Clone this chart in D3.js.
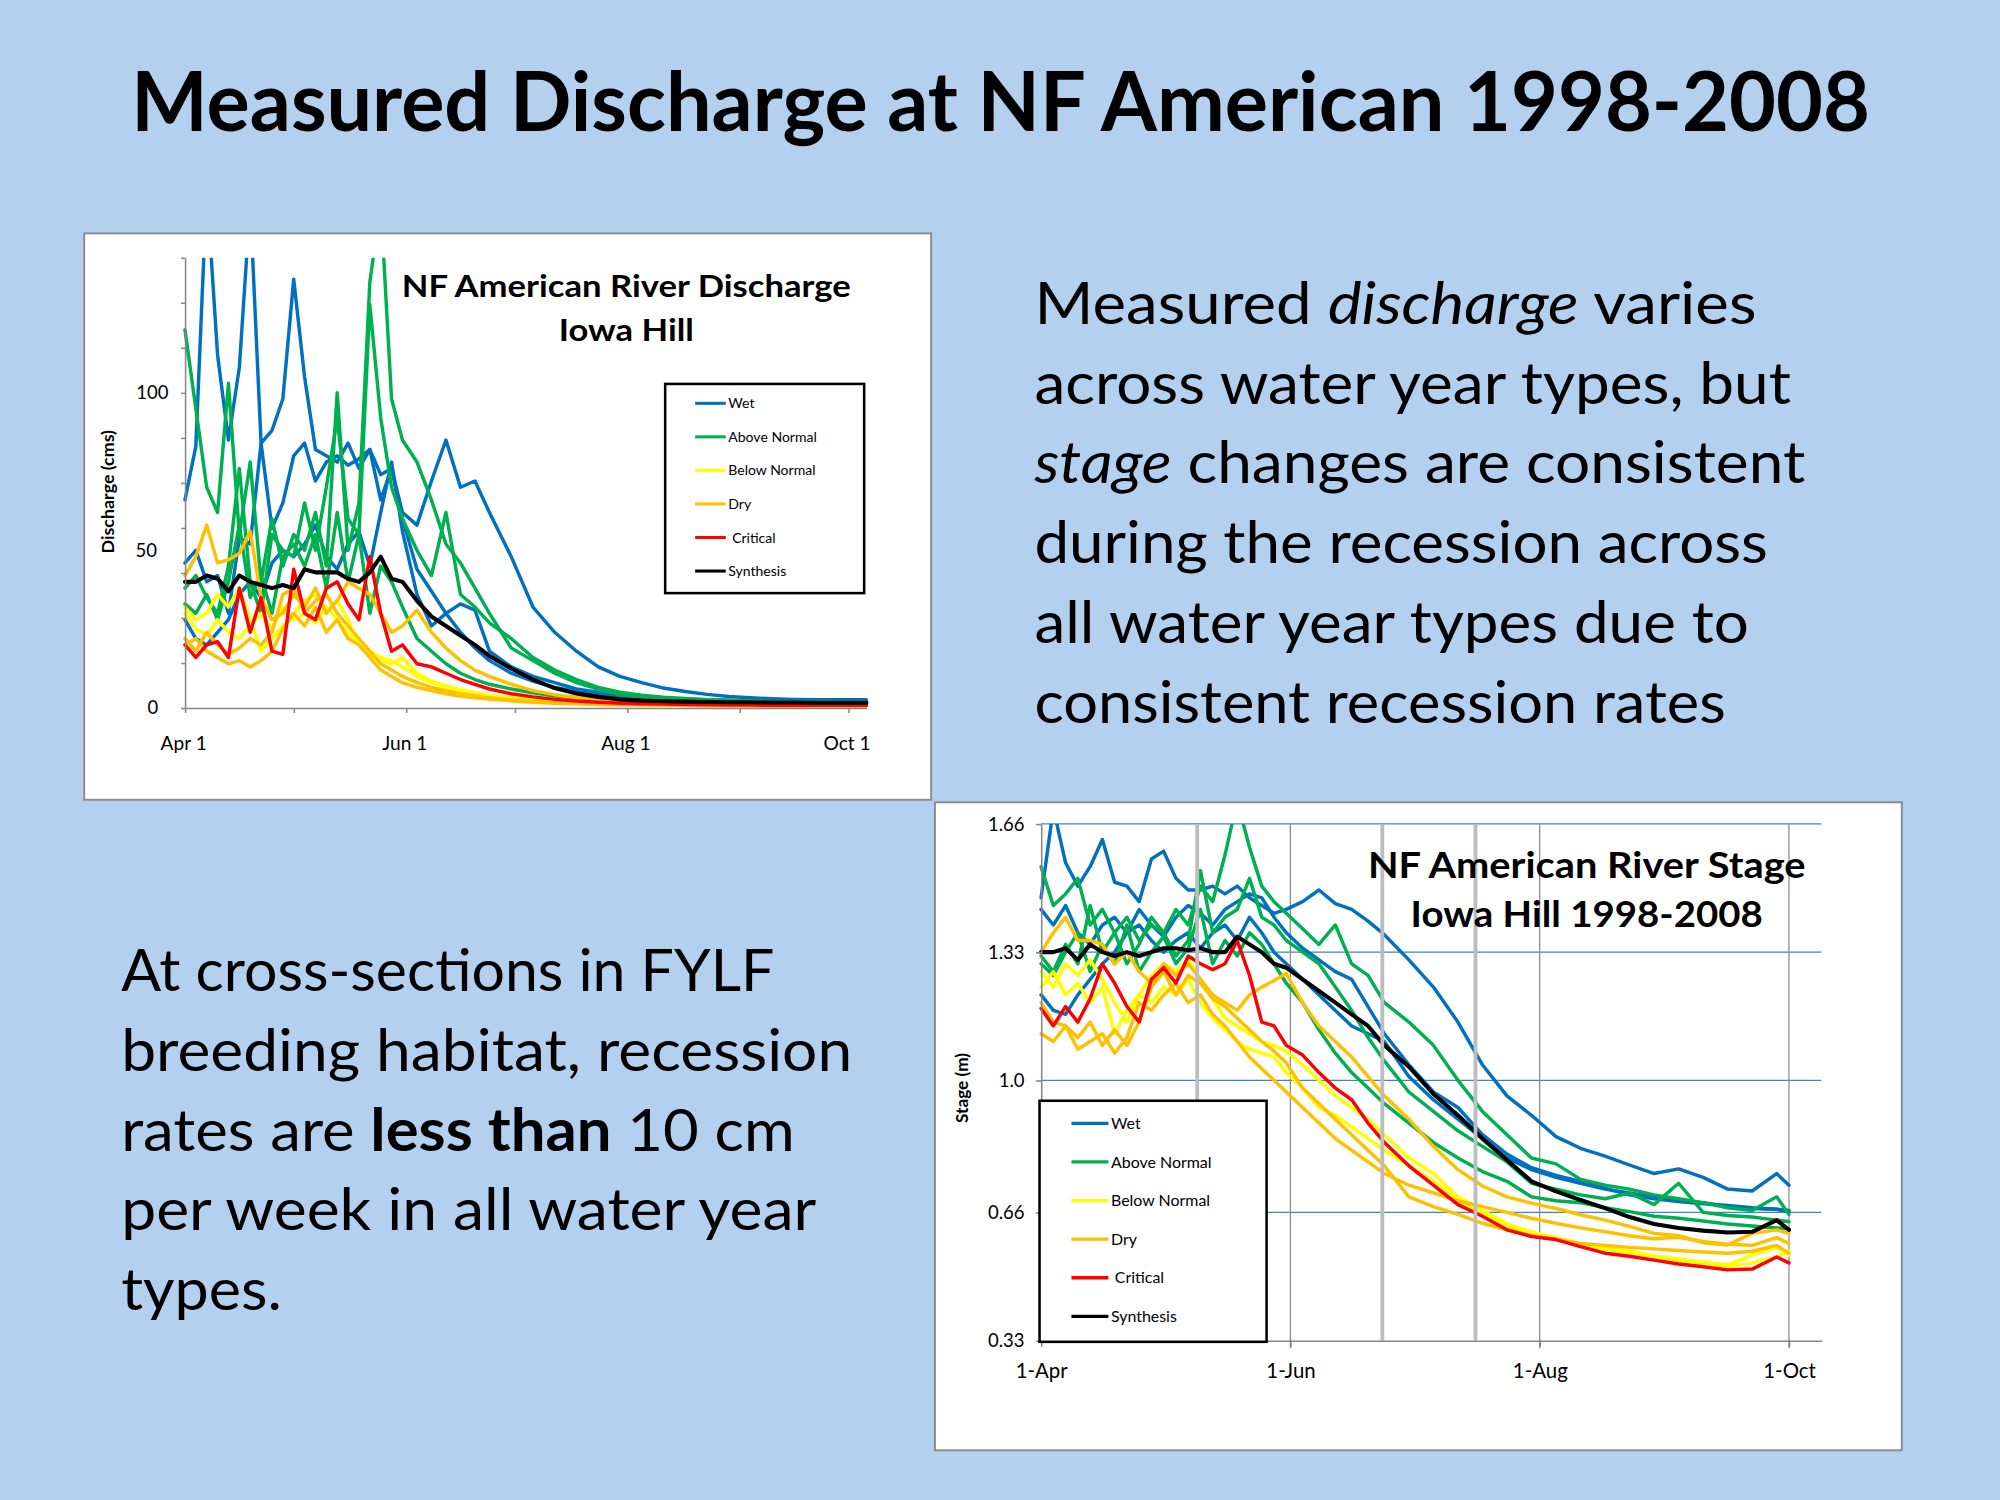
<!DOCTYPE html>
<html><head><meta charset="utf-8">
<script src="https://cdn.jsdelivr.net/npm/d3@7"></script>
<style>html,body{margin:0;padding:0;background:#b4d0ef;}svg{display:block}</style>
</head><body>
<svg id="s" width="2000" height="1500" viewBox="0 0 1568 1176"></svg>
<script>
// ---------------- DATA ----------------
const dayQ = [0,3,6,9,12,15,18,21,24,27,30,33,36,39,42,45,48,51,54,57,60,64,68,72,76,80,84,90,96,102,108,114,120,126,132,138,144,150,156,162,168,174,180,188];
const dayS = [0,3,6,9,12,15,18,21,24,27,30,33,36,39,42,45,48,51,54,57,60,64,68,72,76,80,84,90,96,102,108,114,120,126,132,138,144,150,156,162,168,174,180,183];
const wyTypes = ["Wet","Above Normal","Below Normal","Dry","Critical","Synthesis"];

// Discharge (cms)
const qWet1 = [66,83,165,112,85,108,160,84,88,98,136,105,82,80,78,84,76,82,66,76,60, 44,37,30,24,19,15, 11,8.5,6.5,5.2,4.3,3.7, 3.3,3.0,2.8,2.6,2.4,2.3,2.2,2.1,2.0,2.0, 1.9];
const qWet2 = [46,50,40,42,30,54,52,84,57,65,80,84,72,78,80,77,79,82,74,76,62, 58,72,85,70,72,62, 48,32,24,18,13,10, 8,6.3,5.2,4.3,3.6,3.2,2.9,2.7,2.6,2.6, 2.6];
const qWet3 = [28,22,20,24,28,36,40,35,46,50,48,52,58,48,44,52,56,45,62,78,56, 36,26,30,33,31,18, 13,10,8,6,5,4.2, 3.6,3.1,2.7,2.4,2.2,2.0,1.9,1.8,1.7,1.7, 1.7];
const qAN1 = [120,95,70,62,103,55,78,40,60,45,55,50,62,45,100,50,65,135,160,98,85, 78,66,52,46,38,30, 19,15,11,8,6,4.2, 3.5,3.0,2.7,2.5,2.3,2.1,2.0,1.9,1.8,1.8, 1.8];
const qAN2 = [38,42,35,30,45,76,40,30,55,50,48,65,50,70,92,60,55,128,92,70,60, 50,42,62,36,32,27, 22,16,12,9,6.5,5, 4,3.4,3,2.6,2.4,2.2,2,1.9,1.8,1.7, 1.7];
const qAN3 = [33,30,36,28,40,58,35,42,30,48,52,45,55,38,62,40,55,30,45,40,32, 22,18,14,11,9,7.5, 6,4.8,3.8,3.2,2.7,2.3, 2,1.8,1.6,1.5,1.4,1.3,1.2,1.2,1.1,1.1, 1.1];
const qBN1 = [32,28,30,36,32,38,28,18,22,26,30,34,36,30,34,28,20,18,16,15,13, 10,8,6.5,5.5,4.5,3.8, 3,2.5,2,1.8,1.5,1.3, 1.2,1.1,1,1,0.9,0.9,0.8,0.8,0.8,0.8, 0.8];
const qBN2 = [30,25,23,28,24,22,26,30,25,32,28,30,27,32,28,24,20,17,15,14,16, 11,8.5,7,5.8,4.8,4, 3.2,2.6,2.1,1.8,1.6,1.4, 1.3,1.2,1.1,1,1,0.9,0.9,0.9,0.8,0.8, 0.8];
const qDry1 = [42,48,58,46,47,49,56,35,28,30,36,32,38,30,34,40,38,36,30,24,26, 31,24,19,15,12,10, 7.5,5.5,4.2,3.3,2.7,2.2, 1.9,1.7,1.5,1.4,1.3,1.2,1.1,1.1,1,1, 1];
const qDry2 = [20,22,18,16,14,15,13,15,18,25,30,26,32,24,28,22,20,16,12,10,8, 6.5,5.5,4.5,3.8,3.2,2.8, 2.2,1.8,1.5,1.3,1.1,1, 0.9,0.8,0.8,0.7,0.7,0.7,0.6,0.6,0.6,0.6, 0.6];
const qDry3 = [22,18,24,20,17,19,22,20,24,36,38,30,34,36,30,26,22,18,14,12,10, 8,6.5,5.5,4.5,3.8,3.2, 2.5,2,1.7,1.5,1.3,1.1, 1,0.9,0.9,0.8,0.8,0.7,0.7,0.7,0.7,0.7, 0.7];
const qCrit = [20,16,20,21,16,38,24,35,18,17,44,30,28,38,40,33,28,48,30,18,20, 14,13,11,9,7.5,6, 4.5,3.5,2.7,2.2,1.8,1.5, 1.3,1.2,1.1,1,0.9,0.9,0.8,0.8,0.8,0.8, 0.8];
const qSynth = [40,40,42,41,37,42,40,39,38,39,38,44,43,43,43,41,40,43,48,41,40, 34,29,26,23,20,16.5, 12.5,9,6.3,4.6,3.5,2.7, 2.3,2.1,2,1.9,1.8,1.8,1.7,1.7,1.6,1.6, 1.6];

// Stage (m)
const sWet1 = [1.47,1.70,1.56,1.50,1.55,1.62,1.51,1.50,1.46,1.57,1.59,1.52,1.49,1.49,1.50,1.48,1.50,1.47,1.45,1.43,1.44, 1.46,1.49,1.455,1.44,1.41,1.375, 1.31,1.24,1.15,1.04,0.96,0.91, 0.855,0.825,0.805,0.782,0.76,0.772,0.75,0.72,0.715,0.76, 0.73];
const sWet2 = [1.44,1.40,1.45,1.38,1.35,1.40,1.42,1.38,1.44,1.40,1.37,1.42,1.45,1.43,1.40,1.44,1.46,1.48,1.47,1.42,1.38, 1.34,1.31,1.28,1.26,1.19,1.12, 1.04,0.97,0.93,0.86,0.81,0.775, 0.755,0.74,0.722,0.705,0.695,0.688,0.682,0.678,0.672,0.668, 0.665];
const sWet3 = [1.22,1.18,1.17,1.22,1.26,1.30,1.33,1.38,1.40,1.36,1.33,1.36,1.38,1.34,1.38,1.40,1.36,1.42,1.38,1.33,1.30, 1.26,1.22,1.18,1.14,1.12,1.10, 1.01,0.95,0.90,0.85,0.80,0.77, 0.75,0.735,0.72,0.71,0.70,0.69,0.685,0.675,0.67,0.668, 0.662];
const sAN1 = [1.55,1.45,1.48,1.52,1.40,1.44,1.38,1.42,1.36,1.40,1.38,1.44,1.40,1.50,1.46,1.58,1.72,1.60,1.50,1.46,1.43, 1.39,1.35,1.40,1.30,1.27,1.20, 1.15,1.09,1.00,0.92,0.86,0.80, 0.785,0.745,0.73,0.72,0.705,0.695,0.685,0.672,0.665,0.70, 0.655];
const sAN2 = [1.32,1.28,1.35,1.30,1.45,1.33,1.38,1.30,1.35,1.42,1.38,1.32,1.36,1.54,1.38,1.42,1.44,1.52,1.42,1.40,1.36, 1.33,1.30,1.24,1.18,1.11,1.05, 0.97,0.92,0.87,0.83,0.79,0.735, 0.72,0.705,0.695,0.71,0.68,0.735,0.66,0.652,0.648,0.64, 0.636];
const sAN3 = [1.30,1.27,1.33,1.38,1.28,1.35,1.30,1.40,1.28,1.33,1.37,1.30,1.34,1.44,1.30,1.36,1.32,1.38,1.35,1.30,1.25, 1.20,1.13,1.07,1.02,0.98,0.94, 0.89,0.84,0.80,0.765,0.74,0.70, 0.69,0.685,0.672,0.662,0.65,0.645,0.638,0.63,0.625,0.62, 0.618];
const sBN1 = [1.28,1.24,1.30,1.27,1.31,1.26,1.20,1.15,1.22,1.27,1.30,1.28,1.31,1.26,1.21,1.16,1.14,1.12,1.10,1.09,1.075, 1.04,1.00,0.96,0.93,0.90,0.86, 0.80,0.76,0.70,0.665,0.63,0.61, 0.595,0.58,0.57,0.56,0.548,0.54,0.532,0.525,0.55,0.57, 0.55];
const sBN2 = [1.24,1.28,1.22,1.25,1.20,1.24,1.12,1.18,1.22,1.20,1.24,1.22,1.26,1.20,1.16,1.13,1.10,1.08,1.07,1.06,1.02, 0.98,0.93,0.91,0.88,0.85,0.82, 0.78,0.74,0.69,0.655,0.625,0.605, 0.59,0.575,0.565,0.555,0.545,0.535,0.525,0.52,0.53,0.545, 0.56];
const sDry1 = [1.33,1.38,1.42,1.36,1.36,1.35,1.30,1.33,1.28,1.25,1.30,1.27,1.30,1.26,1.22,1.20,1.18,1.22,1.24,1.257,1.275, 1.20,1.14,1.10,1.06,1.01,0.96, 0.90,0.83,0.77,0.728,0.70,0.684, 0.67,0.654,0.64,0.624,0.606,0.60,0.582,0.576,0.606,0.615, 0.606];
const sDry2 = [1.20,1.15,1.14,1.11,1.15,1.09,1.13,1.09,1.15,1.24,1.28,1.22,1.27,1.25,1.21,1.19,1.16,1.13,1.10,1.075,1.045, 0.98,0.94,0.90,0.86,0.82,0.78, 0.70,0.675,0.655,0.632,0.615,0.60, 0.59,0.58,0.575,0.57,0.566,0.562,0.558,0.555,0.56,0.575, 0.555];
const sDry3 = [1.12,1.10,1.14,1.08,1.10,1.12,1.07,1.11,1.20,1.18,1.22,1.25,1.20,1.22,1.17,1.14,1.10,1.06,1.03,1.00,0.97, 0.93,0.89,0.85,0.82,0.79,0.76, 0.73,0.71,0.69,0.675,0.66,0.645, 0.632,0.62,0.61,0.60,0.592,0.596,0.585,0.578,0.575,0.595, 0.58];
const sCrit = [1.185,1.14,1.19,1.15,1.21,1.30,1.25,1.19,1.15,1.26,1.29,1.25,1.32,1.30,1.285,1.30,1.36,1.27,1.15,1.14,1.09, 1.065,1.02,0.98,0.95,0.89,0.84, 0.78,0.73,0.68,0.65,0.615,0.598, 0.59,0.572,0.555,0.547,0.537,0.527,0.52,0.512,0.514,0.545, 0.53];
const sSynth = [1.33,1.33,1.34,1.31,1.35,1.33,1.32,1.33,1.32,1.33,1.34,1.34,1.335,1.34,1.33,1.33,1.37,1.35,1.33,1.30,1.29, 1.26,1.23,1.20,1.17,1.14,1.09, 1.035,0.965,0.91,0.85,0.795,0.74, 0.714,0.692,0.671,0.648,0.63,0.62,0.613,0.608,0.61,0.64, 0.615];

// axes / ticks
const monthDays = [0,30,61,91,122,153,183];
const qLabelDays = [0,61,122,183];
const qLabelText = ["Apr 1","Jun 1","Aug 1","Oct 1"];
const qTickLabels = [0,50,100];
const sTicks = [0.33,0.66,1.0,1.33,1.66];
const sTickText = ["0.33","0.66","1.0","1.33","1.66"];
const sLabelDays = [0,61,122,183];
const sLabelText = ["1-Apr","1-Jun","1-Aug","1-Oct"];
const sMarkerDays = [38.2,83.5,106.3];

const dischargeSeries = [
  ["Wet",qWet1],["Wet",qWet2],["Wet",qWet3],
  ["Above Normal",qAN1],["Above Normal",qAN2],["Above Normal",qAN3],
  ["Below Normal",qBN1],["Below Normal",qBN2],
  ["Dry",qDry1],["Dry",qDry2],["Dry",qDry3],
  ["Critical",qCrit],["Synthesis",qSynth]];
const stageSeries = [
  ["Wet",sWet1],["Wet",sWet2],["Wet",sWet3],
  ["Above Normal",sAN1],["Above Normal",sAN2],["Above Normal",sAN3],
  ["Below Normal",sBN1],["Below Normal",sBN2],
  ["Dry",sDry1],["Dry",sDry2],["Dry",sDry3],
  ["Critical",sCrit],["Synthesis",sSynth]];

// ---------------- STYLE ----------------
const color = {"Wet":"#0070C0","Above Normal":"#00B050","Below Normal":"#FFFF00","Dry":"#FFC000","Critical":"#FF0000","Synthesis":"#000000"};
const FONT = "Lato, 'Open Sans', sans-serif";
const fits = [];
function fit(sel, cx, w){ fits.push([sel,cx,w]); }
function applyFits(){
  fits.forEach(([sel,cx,w])=>{
    sel.attr("transform",null);
    const bw = sel.node().getBBox().width;
    if(bw>0) sel.attr("transform",`translate(${cx},0) scale(${w/bw},1) translate(${-cx},0)`);
  });
}

const svg = d3.select("#s");
svg.append("rect").attr("width",1568).attr("height",1176).attr("fill","#b4d0ef");

// Title
const t = svg.append("text").attr("x",103).attr("y",103).attr("font-family",FONT)
  .attr("font-weight",700).attr("font-size",64).attr("fill","#000")
  .text("Measured Discharge at NF American 1998-2008");
fit(t,103,1363);

// Paragraphs
function para(x, y0, lh, lines, widths){
  lines.forEach((parts,i)=>{
    const tx = svg.append("text").attr("x",x).attr("y",y0+i*lh).attr("font-family",FONT)
      .attr("font-size",46).attr("fill","#000");
    parts.forEach(p=>{
      const ts = tx.append("tspan").text(p[0]);
      if(p[1]==="i") ts.attr("font-style","italic");
      if(p[1]==="b") ts.attr("font-weight",700);
    });
    tx.attr("xml:space","preserve");
    fit(tx,x,widths[i]);
  });
}
para(811,254,62.5,[
  [["Measured "],["discharge","i"],[" varies"]],
  [["across water year types, but"]],
  [["stage","i"],[" changes are consistent"]],
  [["during the recession across"]],
  [["all water year types due to"]],
  [["consistent recession rates"]]],[566,593,605,575,560,542]);
para(95,777,62.5,[
  [["At cross-sections in FYLF"]],
  [["breeding habitat, recession"]],
  [["rates are "],["less than","b"],[" 10 cm"]],
  [["per week in all water year"]],
  [["types."]]],[512,573,528,545,126]);

// ---------------- DISCHARGE CHART ----------------
svg.append("rect").attr("x",66).attr("y",183).attr("width",664).attr("height",444)
  .attr("fill","#fff").attr("stroke","#8a8a8a").attr("stroke-width",1.5);
const xQ = d3.scaleLinear().domain([0,188]).range([145,145+188*2.842]);
const yQ = d3.scaleLinear().domain([0,1000/7]).range([555,202]);
const gQ = svg.append("g");
svg.append("clipPath").attr("id","cq").append("rect").attr("x",140).attr("y",202).attr("width",560).attr("height",370);
const lineQ = d3.line().x((d,i)=>xQ(dayQ[i])).y(d=>yQ(d));
const gl = gQ.append("g").attr("clip-path","url(#cq)");
dischargeSeries.forEach(([type,vals])=>{
  gl.append("path").attr("d",lineQ(vals)).attr("fill","none").attr("stroke",color[type])
    .attr("stroke-width",type==="Synthesis"?3.2:2.7).attr("stroke-linejoin","round").attr("stroke-linecap","round");
});
const ax1 = gQ.append("g").attr("transform","translate(145,0)")
  .call(d3.axisLeft(yQ).tickValues(d3.range(0,11).map(i=>i*100/7)).tickSize(3).tickSizeOuter(0).tickFormat(""));
const ax2 = gQ.append("g").attr("transform","translate(0,555)")
  .call(d3.axisBottom(xQ).tickValues(monthDays).tickSize(4).tickSizeOuter(0).tickFormat(""));
[ax1,ax2].forEach(a=>{a.selectAll("path,line").attr("stroke","#868686").attr("stroke-width",1.2);});
const qLabRight = {0:124,50:123,100:132};
gQ.selectAll(".ql").data(qTickLabels).join("text").attr("x",d=>qLabRight[d]).attr("y",d=>yQ(d)+5)
  .attr("text-anchor","end").attr("font-family",FONT).attr("font-size",14.5).text(d=>d);
gQ.selectAll(".qx").data(qLabelDays).join("text").attr("x",d=>xQ(d)-1).attr("y",588)
  .attr("text-anchor","middle").attr("font-family",FONT).attr("font-size",15).text((d,i)=>qLabelText[i]);
gQ.append("text").attr("transform","translate(89,385.5) rotate(-90)").attr("text-anchor","middle")
  .attr("font-family",FONT).attr("font-weight",700).attr("font-size",14).text("Discharge (cms)");
const ct1 = gQ.append("text").attr("x",491).attr("y",233).attr("text-anchor","middle").attr("font-family",FONT)
  .attr("font-weight",700).attr("font-size",24).text("NF American River Discharge");
fit(ct1,491,352);
const ct2 = gQ.append("text").attr("x",491).attr("y",267).attr("text-anchor","middle").attr("font-family",FONT)
  .attr("font-weight",700).attr("font-size",24).text("Iowa Hill");
fit(ct2,491,106);
// legend 1
const lg1 = gQ.append("g");
lg1.append("rect").attr("x",521.5).attr("y",301).attr("width",156).attr("height",164).attr("fill","#fff")
  .attr("stroke","#000").attr("stroke-width",2);
wyTypes.forEach((w,i)=>{
  const y = 316.2+i*26.3;
  lg1.append("line").attr("x1",545).attr("x2",569).attr("y1",y).attr("y2",y).attr("stroke",color[w]).attr("stroke-width",2.4);
  lg1.append("text").attr("x",w==="Critical"?574:571).attr("y",y+4).attr("font-family",FONT).attr("font-size",11).text(w);
});

// ---------------- STAGE CHART ----------------
svg.append("rect").attr("x",733).attr("y",629).attr("width",758).attr("height",508)
  .attr("fill","#fff").attr("stroke","#8a8a8a").attr("stroke-width",1.5);
const xS = d3.scaleLinear().domain([0,191]).range([816.2,816.2+191*3.204]);
const yS = d3.scaleLinear().domain([0.33,1.66]).range([1051,646]);
const gS = svg.append("g");
gS.selectAll(".hg").data(sTicks.slice(1)).join("line").attr("x1",816).attr("x2",1428)
  .attr("y1",d=>yS(d)).attr("y2",d=>yS(d)).attr("stroke","#3d85c6").attr("stroke-width",1);
gS.selectAll(".vg").data(sLabelDays.slice(1)).join("line").attr("x1",d=>xS(d)).attr("x2",d=>xS(d))
  .attr("y1",646).attr("y2",1057).attr("stroke","#8c8c8c").attr("stroke-width",1);
svg.append("clipPath").attr("id","cs").append("rect").attr("x",810).attr("y",646).attr("width",630).attr("height",420);
const lineS = d3.line().x((d,i)=>xS(dayS[i])).y(d=>yS(d));
const gl2 = gS.append("g").attr("clip-path","url(#cs)");
stageSeries.forEach(([type,vals])=>{
  gl2.append("path").attr("d",lineS(vals)).attr("fill","none").attr("stroke",color[type])
    .attr("stroke-width",type==="Synthesis"?3.2:2.7).attr("stroke-linejoin","round").attr("stroke-linecap","round");
});
gS.selectAll(".mk").data(sMarkerDays).join("line").attr("x1",d=>xS(d)).attr("x2",d=>xS(d))
  .attr("y1",646).attr("y2",1051).attr("stroke","#bdbdbd").attr("stroke-width",3);
const ax3 = gS.append("g").attr("transform","translate(816.2,0)")
  .call(d3.axisLeft(yS).tickValues(sTicks).tickSize(4).tickSizeOuter(0).tickFormat((d,i)=>sTickText[i]));
const ax4 = gS.append("g").attr("transform","translate(0,1051)")
  .call(d3.axisBottom(xS).tickValues(sLabelDays).tickSize(5).tickSizeOuter(0).tickFormat((d,i)=>sLabelText[i]));
[ax3,ax4].forEach(a=>{a.selectAll("path,line").attr("stroke","#868686").attr("stroke-width",1.2);
  a.selectAll("text").attr("font-family",FONT).attr("fill","#000");});
ax3.selectAll("text").attr("font-size",14.5).attr("x",-13);
ax4.selectAll("text").attr("font-size",16).attr("y",18);
gS.append("text").attr("transform","translate(759,853) rotate(-90)").attr("text-anchor","middle")
  .attr("font-family",FONT).attr("font-weight",700).attr("font-size",13.5).text("Stage (m)");
const st1 = gS.append("text").attr("x",1244).attr("y",688).attr("text-anchor","middle").attr("font-family",FONT)
  .attr("font-weight",700).attr("font-size",29).text("NF American River Stage");
fit(st1,1244,343);
const st2 = gS.append("text").attr("x",1244).attr("y",727).attr("text-anchor","middle").attr("font-family",FONT)
  .attr("font-weight",700).attr("font-size",29).text("Iowa Hill 1998-2008");
fit(st2,1244,276);
// legend 2
const lg2 = gS.append("g");
lg2.append("rect").attr("x",815).attr("y",863).attr("width",178).attr("height",189).attr("fill","#fff")
  .attr("stroke","#000").attr("stroke-width",2);
wyTypes.forEach((w,i)=>{
  const y = 880.7+i*30.26;
  lg2.append("line").attr("x1",840).attr("x2",869).attr("y1",y).attr("y2",y).attr("stroke",color[w]).attr("stroke-width",2.6);
  lg2.append("text").attr("x",w==="Critical"?874:871).attr("y",y+4.5).attr("font-family",FONT).attr("font-size",12.5).text(w);
});

applyFits();
if(document.fonts && document.fonts.ready) document.fonts.ready.then(applyFits);
</script>
</body></html>
